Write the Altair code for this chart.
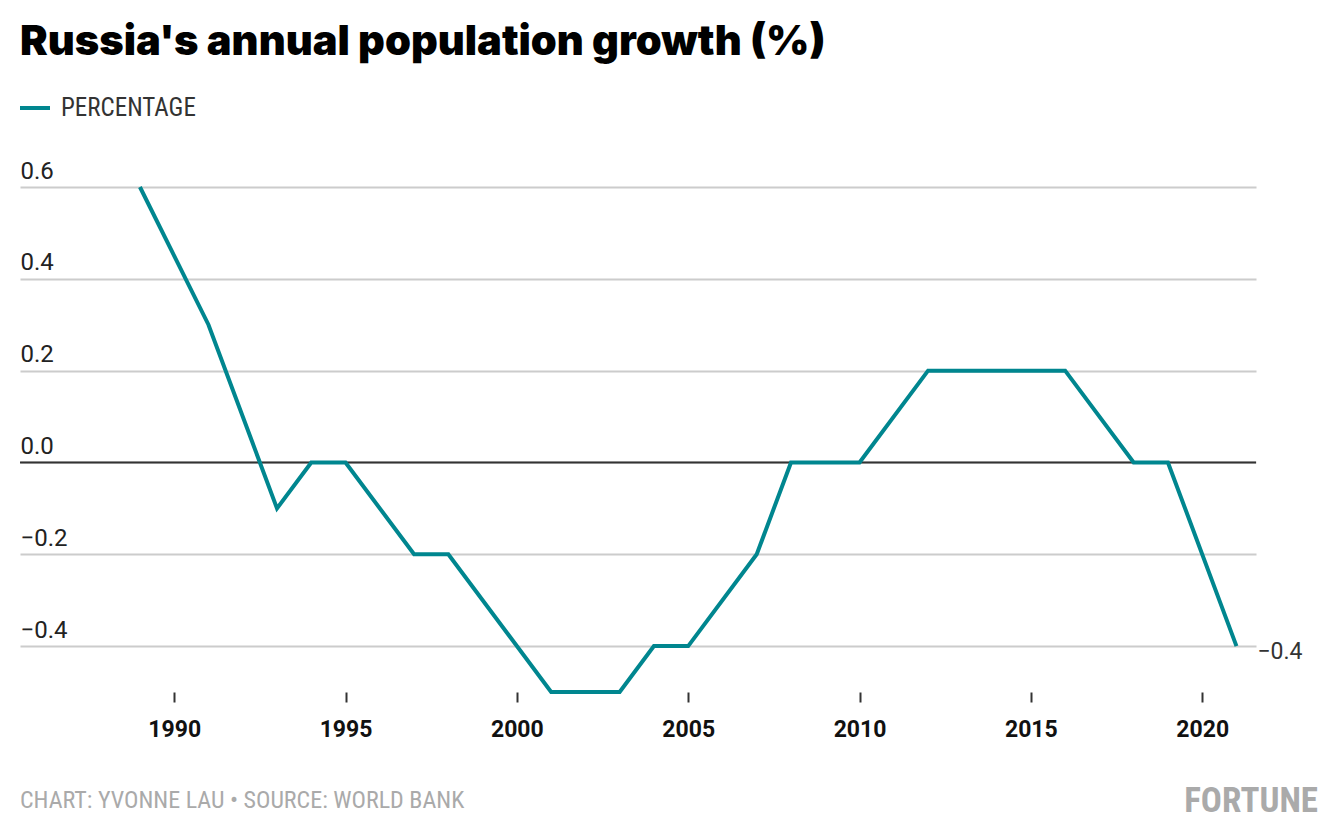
import altair as alt
import pandas as pd

years = [1989, 1991, 1993, 1994, 1995, 1997, 1998, 2001, 2003, 2004, 2005, 2007, 2008, 2010, 2012, 2016, 2018, 2019, 2021]
growth = [0.6, 0.3, -0.1, 0.0, 0.0, -0.2, -0.2, -0.5, -0.5, -0.4, -0.4, -0.2, 0.0, 0.0, 0.2, 0.2, 0.0, 0.0, -0.4]
series_name = "PERCENTAGE"
x_ticks = [1990, 1995, 2000, 2005, 2010, 2015, 2020]
y_ticks = [-0.4, -0.2, 0.0, 0.2, 0.4, 0.6]
title_text = "Russia's annual population growth (%)"
credit_text = "CHART: YVONNE LAU \u2022 SOURCE: WORLD BANK"
brand_text = "FORTUNE"

TEAL = "#00868f"
COND = "Liberation Sans Narrow, Roboto Condensed, Roboto"

df = pd.DataFrame({"year": years, "value": growth, "series": series_name})
last = df.tail(1)

xs = alt.Scale(domain=[1985.5, 2021.57], nice=False, zero=False)
ys = alt.Scale(domain=[-0.5, 0.6], nice=False, zero=False)

xaxis = alt.Axis(values=x_ticks, format="d", grid=False, domain=False, ticks=True,
                 tickSize=10, tickWidth=2, tickColor="#333",
                 labelFont="Roboto", labelFontWeight="bold", labelFontSize=23,
                 labelColor="#111", labelPadding=16, title=None)
yaxis = alt.Axis(values=y_ticks, format=".1f", grid=True, gridColor="#cccccc", gridWidth=2,
                 domain=False, ticks=False, tickSize=0, labelAlign="left",
                 labelBaseline="alphabetic", labelOffset=-9, labelPadding=0,
                 labelFont="Roboto", labelFontSize=24, labelColor="#222", title=None)

line = alt.Chart(df).mark_line(strokeWidth=4, clip=False).encode(
    x=alt.X("year:Q", scale=xs, axis=xaxis),
    y=alt.Y("value:Q", scale=ys, axis=yaxis),
    color=alt.Color("series:N", scale=alt.Scale(range=[TEAL]),
                    legend=alt.Legend(orient="none", legendX=-2, legendY=-96, title=None,
                                      symbolType="stroke", symbolSize=900, symbolStrokeWidth=4,
                                      labelFont=COND, labelFontSize=25, labelColor="#333",
                                      labelOffset=9)),
)

zero = alt.Chart(pd.DataFrame({"y": [0.0]})).mark_rule(color="#333", strokeWidth=2).encode(
    y=alt.Y("y:Q", scale=ys)
)

end_label = alt.Chart(last).mark_text(align="left", baseline="middle", dx=21, dy=6,
                                      font="Roboto", fontSize=23, color="#333").encode(
    x=alt.X("year:Q", scale=xs),
    y=alt.Y("value:Q", scale=ys),
    text=alt.Text("value:Q", format=".1f"),
)

credit = alt.Chart(pd.DataFrame({"t": [credit_text]})).mark_text(
    align="left", baseline="alphabetic", font=COND, fontSize=24, color="#aaaaaa").encode(
    x=alt.value(0), y=alt.value(621), text="t:N")

brand = alt.Chart(pd.DataFrame({"t": [brand_text]})).mark_text(
    align="right", baseline="alphabetic", font=COND, fontWeight="bold", fontSize=35,
    color="#aaaaaa").encode(
    x=alt.value(1298), y=alt.value(625), text="t:N")

chart = alt.layer(zero, line, end_label, credit, brand).properties(
    width=1236, height=505,
    title=alt.TitleParams(title_text, anchor="start", frame="group", offset=27,
                          font="Inter", fontWeight=900, fontSize=41.6, color="#000"),
    autosize=alt.AutoSizeParams(type="none"),
    padding={"left": 12, "top": 179, "right": 76, "bottom": 130},
).configure(background="white").configure_view(strokeWidth=0, stroke=None)

chart.save("out.html", embed_options={"renderer": "svg", "actions": False})
